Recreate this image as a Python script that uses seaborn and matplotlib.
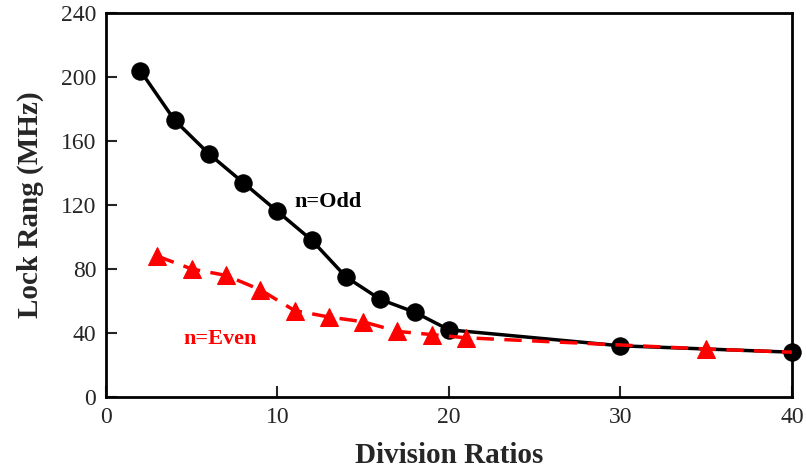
import pandas as pd
import seaborn as sns
import matplotlib.pyplot as plt

# values
odd_ratio = [2, 4, 6, 8, 10, 12, 14, 16, 18, 20, 30, 40]
odd_lock = [204, 173, 152, 134, 116, 98, 75, 61, 53, 42, 32, 28]
even_ratio = [3, 5, 7, 9, 11, 13, 15, 17, 19, 21, 35, 40]
even_lock = [88, 80, 76, 67, 54, 50, 47, 41, 39, 37, 30, 28]

odd = pd.DataFrame({'ratio': odd_ratio, 'lock': odd_lock})
even = pd.DataFrame({'ratio': even_ratio, 'lock': even_lock})

sns.set_style("ticks")
plt.rcParams['font.family'] = ['Liberation Serif', 'DejaVu Serif']

fig = plt.figure(figsize=(8.06, 4.72), dpi=100)
ax = fig.add_axes([0.1315, 0.1589, 0.851, 0.8136])

sns.lineplot(data=odd, x='ratio', y='lock', ax=ax, color='black', linewidth=2.5,
             marker='o', markersize=12.5, markeredgecolor='black', zorder=3,
             clip_on=False)
sns.lineplot(data=even, x='ratio', y='lock', ax=ax, color='red', linewidth=2.5,
             linestyle=(0, (5, 3)), marker='^', markersize=12.5, markeredgecolor='red',
             markevery=list(range(len(even_ratio) - 1)), zorder=4, clip_on=False)

ax.set_xlim(0, 40)
ax.set_ylim(0, 240)
ax.set_xticks([0, 10, 20, 30, 40])
ax.set_yticks([0, 40, 80, 120, 160, 200, 240])
ax.tick_params(direction='in', length=8, width=1.5, labelsize=17, pad=7,
               top=False, right=False)
for s in ax.spines.values():
    s.set_linewidth(2)
    s.set_color('black')

ax.set_xlabel("Division Ratios", fontsize=21, fontweight='bold', labelpad=10)
ax.set_ylabel("Lock Rang (MHz)", fontsize=21, fontweight='bold', labelpad=12)

ax.text(11.0, 119, "n=Odd", fontsize=16, fontweight='bold', color='black')
ax.text(4.5, 33, "n=Even", fontsize=16, fontweight='bold', color='red')

fig.savefig("out.png", dpi=100)
